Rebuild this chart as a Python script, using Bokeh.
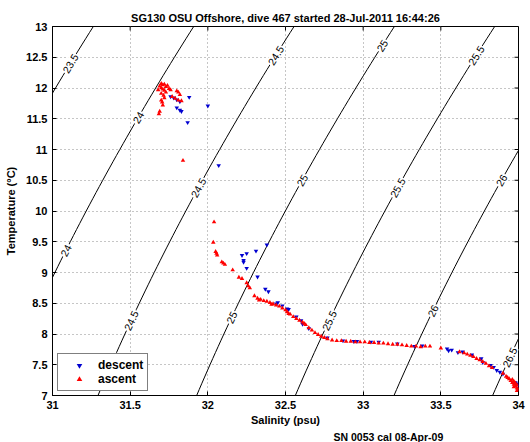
import numpy as np
from bokeh.plotting import figure
from bokeh.models import FixedTicker, Range1d, Title
from bokeh.core.properties import value
from bokeh.embed import file_html
from bokeh.resources import INLINE

# ---------------- data ----------------
title_text = "SG130 OSU Offshore, dive 467 started 28-Jul-2011 16:44:26"
x_label = "Salinity (psu)"
y_label = "Temperature (°C)"
footer_text = "SN 0053 cal 08-Apr-09"

x_ticks = [31, 31.5, 32, 32.5, 33, 33.5, 34]
x_tick_labels = ["31", "31.5", "32", "32.5", "33", "33.5", "34"]
y_ticks = [7, 7.5, 8, 8.5, 9, 9.5, 10, 10.5, 11, 11.5, 12, 12.5, 13]
y_tick_labels = ["7", "7.5", "8", "8.5", "9", "9.5", "10", "10.5", "11", "11.5", "12", "12.5", "13"]

sigma_levels = [23.5, 24, 24.5, 25, 25.5, 26, 26.5]
sigma_level_labels = ["23.5", "24", "24.5", "25", "25.5", "26", "26.5"]
# temperatures at which each isopycnal carries its label
sigma_label_temps = [[12.40], [11.52, 9.36], [12.53, 10.38, 8.22],
                     [12.69, 10.50, 8.27], [12.53, 10.38, 8.22],
                     [10.50, 8.38], [7.62]]

descent_S = [31.76, 31.78, 31.80, 31.82, 31.88, 31.80, 31.83, 31.82, 31.87, 32.00, 32.07,
             32.22, 32.25, 32.23, 32.23, 32.31, 32.38, 32.25, 32.32, 32.37, 32.39,
             32.44, 32.45, 32.48, 32.51, 32.52, 32.57, 32.60, 32.61, 32.65, 32.77, 32.87,
             32.94, 32.96, 33.05, 33.10, 33.22, 33.33, 33.38, 33.54, 33.55, 33.57, 33.61,
             33.64, 33.70, 33.76, 33.77, 33.82, 33.84, 33.86, 33.88, 33.90, 33.99, 33.98,
             34.00]
descent_T = [11.86, 11.84, 11.81, 11.78, 11.85, 11.68, 11.62, 11.64, 11.44, 11.71, 10.74,
             9.28, 9.31, 9.20, 9.17, 9.35, 9.45, 9.07, 8.93, 8.73, 8.69,
             8.49, 8.51, 8.46, 8.41, 8.40, 8.28, 8.22, 8.16, 8.09, 7.94, 7.89,
             7.88, 7.88, 7.87, 7.87, 7.84, 7.80, 7.81, 7.76, 7.73, 7.74, 7.70,
             7.71, 7.66, 7.60, 7.54, 7.49, 7.46, 7.41, 7.38, 7.35, 7.19, 7.21,
             7.17]

ascent_S = [31.70, 31.71, 31.72, 31.69, 31.73, 31.70, 31.74, 31.71, 31.75, 31.72, 31.68,
            31.73, 31.76, 31.70, 31.715, 31.72, 31.70, 31.706, 31.71, 31.69, 31.685,
            31.80, 31.81, 31.82, 31.77, 31.79, 31.81, 31.83, 31.84,
            32.04, 32.035, 32.05, 32.056, 32.06, 32.09, 32.10, 32.11, 32.16, 32.20, 32.22,
            32.25, 32.26, 32.27,
            32.30, 32.32, 32.33, 32.34, 32.36, 32.38, 32.40, 32.41, 32.42, 32.44, 32.46,
            32.48, 32.50, 32.51, 32.52, 32.53, 32.55, 32.57, 32.59, 32.61, 32.62, 32.63,
            32.65, 32.67, 32.69, 32.71, 32.73, 32.75, 32.77, 32.80, 32.83, 32.86, 32.89,
            32.92, 32.95, 32.98, 33.01, 33.04, 33.07, 33.10, 33.13, 33.16, 33.19, 33.22,
            33.25, 33.28, 33.31, 33.34, 33.37, 33.40, 33.43,
            33.50, 33.62, 33.65, 33.67, 33.69, 33.71, 33.73, 33.75, 33.77, 33.79, 33.81,
            33.83, 33.90, 33.92, 33.93, 33.94, 33.95, 33.96, 33.97, 33.98, 33.99, 33.99,
            34.00, 33.97, 33.98, 33.96, 33.99, 33.97]
ascent_T = [12.07, 12.05, 12.06, 12.03, 12.02, 12.00, 12.04, 11.98, 11.99, 11.96, 11.97,
            11.93, 11.97, 11.91, 11.88, 11.84, 11.80, 11.77, 11.72, 11.62, 11.58,
            11.95, 11.93, 11.89, 11.86, 11.83, 11.80, 11.79, 10.82,
            9.82, 9.49, 9.34, 9.31, 9.28, 9.17, 9.15, 9.13, 9.04, 8.92, 8.90,
            8.83, 8.78, 8.75,
            8.62, 8.58, 8.55, 8.56, 8.54, 8.53, 8.51, 8.48, 8.49, 8.47, 8.45,
            8.42, 8.39, 8.36, 8.33, 8.32, 8.28, 8.25, 8.22, 8.19, 8.17, 8.15,
            8.10, 8.06, 8.02, 7.99, 7.96, 7.94, 7.92, 7.90, 7.89, 7.89, 7.88,
            7.88, 7.87, 7.87, 7.87, 7.86, 7.86, 7.85, 7.85, 7.84, 7.83, 7.83,
            7.82, 7.81, 7.80, 7.80, 7.79, 7.80, 7.80,
            7.77, 7.71, 7.69, 7.67, 7.65, 7.63, 7.60, 7.58, 7.55, 7.52, 7.48,
            7.45, 7.36, 7.31, 7.29, 7.27, 7.24, 7.21, 7.18, 7.15, 7.12, 7.08,
            7.10, 7.23, 7.20, 7.26, 7.17, 7.14]

# ---------------- seawater density (UNESCO 1980, p = 0) ----------------
def sigma_t(S, T):
    S = np.asarray(S, dtype=float)
    T = np.asarray(T, dtype=float)
    rw = (999.842594 + 6.793952e-2 * T - 9.095290e-3 * T**2 + 1.001685e-4 * T**3
          - 1.120083e-6 * T**4 + 6.536332e-9 * T**5)
    A = 0.824493 - 4.0899e-3 * T + 7.6438e-5 * T**2 - 8.2467e-7 * T**3 + 5.3875e-9 * T**4
    B = -5.72466e-3 + 1.0227e-4 * T - 1.6546e-6 * T**2
    C = 4.8314e-4
    return rw + A * S + B * S**1.5 + C * S**2 - 1000.0


def salinity_for(level, T):
    T = np.asarray(T, dtype=float)
    lo = np.full_like(T, 20.0)
    hi = np.full_like(T, 45.0)
    for _ in range(60):
        mid = 0.5 * (lo + hi)
        f = sigma_t(mid, T) - level
        hi = np.where(f > 0, mid, hi)
        lo = np.where(f > 0, lo, mid)
    return 0.5 * (lo + hi)


X0, X1, Y0, Y1 = 31, 34, 7, 13
W, H = 530, 442
BL, BR, BT, BB = 52, 12, 26, 47
FW, FH = W - BL - BR, H - BT - BB
sx = FW / (X1 - X0)
sy = FH / (Y1 - Y0)
TICK = 4

FONT = "Liberation Sans"

p = figure(width=W, height=H, output_backend="svg", toolbar_location=None,
           x_range=Range1d(X0, X1), y_range=Range1d(Y0, Y1),
           min_border_left=BL, min_border_right=BR, min_border_top=BT, min_border_bottom=BB,
           background_fill_color="white", border_fill_color="white")
p.outline_line_color = "black"
p.outline_line_width = 1

# title
p.title.text = title_text
p.title.align = "center"
p.title.text_font = FONT
p.title.text_font_style = "bold"
p.title.text_font_size = "11px"
p.title.text_color = "black"
p.title.standoff = 6

# axes
for ax, ticks, labels in ((p.xaxis[0], x_ticks, x_tick_labels), (p.yaxis[0], y_ticks, y_tick_labels)):
    ax.ticker = FixedTicker(ticks=ticks)
    ax.major_label_overrides = {t: l for t, l in zip(ticks, labels)}
    ax.major_tick_in = TICK
    ax.major_tick_out = 0
    ax.minor_tick_line_color = None
    ax.major_tick_line_color = "black"
    ax.axis_line_color = "black"
    ax.major_label_text_font = FONT
    ax.major_label_text_font_style = "bold"
    ax.major_label_text_font_size = "11px"
    ax.major_label_text_color = "black"
    ax.major_label_standoff = 5
    ax.axis_label_text_font = FONT
    ax.axis_label_text_font_style = "bold"
    ax.axis_label_text_font_size = "11px"
    ax.axis_label_text_color = "black"
p.xaxis[0].axis_label = x_label
p.xaxis[0].axis_label_standoff = 2
p.yaxis[0].axis_label = y_label
p.yaxis[0].axis_label_standoff = 6

# footer note
p.add_layout(Title(text=footer_text, align="left", offset=281, standoff=0,
                   text_font=FONT, text_font_style="bold", text_font_size="10.5px",
                   text_color="black"), "below")

# inward ticks on the top and right edges of the box
p.segment(x0=x_ticks, y0=[Y1] * len(x_ticks), x1=x_ticks,
          y1=[Y1 - TICK / sy] * len(x_ticks), line_color="black", line_width=1)
p.segment(x0=[X1] * len(y_ticks), y0=y_ticks, x1=[X1 - TICK / sx] * len(y_ticks),
          y1=y_ticks, line_color="black", line_width=1)

# grid
p.xgrid.ticker = FixedTicker(ticks=x_ticks)
p.ygrid.ticker = FixedTicker(ticks=y_ticks)
for g in (p.xgrid[0], p.ygrid[0]):
    g.grid_line_color = "#8c8c8c"
    g.grid_line_dash = "1 3"
    g.grid_line_width = 1

# isopycnals
T_line = np.linspace(6.0, 14.0, 81)
lab_x, lab_y, lab_t, lab_a = [], [], [], []
for lev, txt, temps in zip(sigma_levels, sigma_level_labels, sigma_label_temps):
    S_line = salinity_for(lev, T_line)
    p.line(S_line, T_line, line_color="black", line_width=1)
    for tt in temps:
        s0 = float(salinity_for(lev, np.array([tt]))[0])
        s1 = float(salinity_for(lev, np.array([tt + 0.05]))[0])
        ang = np.arctan2(0.05 * sy, (s1 - s0) * sx)
        lab_x.append(s0)
        lab_y.append(tt)
        lab_t.append(txt)
        lab_a.append(float(ang))

p.text(x=lab_x, y=lab_y, text=lab_t, angle=lab_a,
       text_font=value(FONT), text_font_size="10.5px", text_color="black",
       text_align="center", text_baseline="middle",
       background_fill_color="white", padding=1)

# data
p.scatter(descent_S, descent_T, marker="inverted_triangle", size=4.5,
          fill_color="#0000d0", line_color=None, legend_label="descent")
p.scatter(ascent_S, ascent_T, marker="triangle", size=4.5,
          fill_color="#ff0000", line_color=None, legend_label="ascent")

lg = p.legend[0]
lg.location = (5, 4)
lg.margin = 0
lg.padding = 4
lg.spacing = 0
lg.label_height = 14
lg.glyph_height = 14
lg.glyph_width = 34
lg.label_standoff = 2
lg.border_line_color = "black"
lg.border_line_width = 1
lg.background_fill_color = "white"
lg.background_fill_alpha = 1
lg.label_text_font = FONT
lg.label_text_font_style = "bold"
lg.label_text_font_size = "12px"
lg.label_text_color = "black"

open("out.html", "w").write(file_html(p, INLINE))
